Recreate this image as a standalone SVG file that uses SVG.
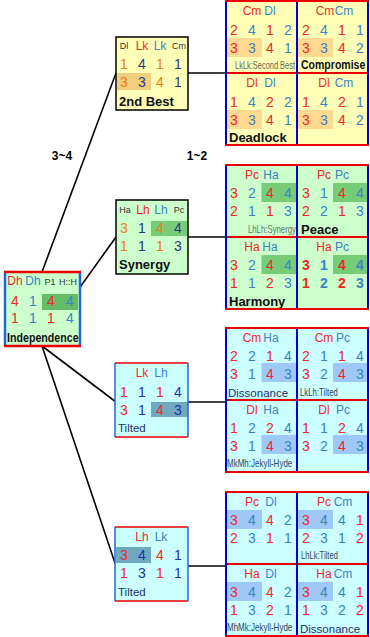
<svg xmlns="http://www.w3.org/2000/svg" width="370" height="637" viewBox="0 0 370 637">
<style>
text{font-family:"Liberation Sans",Arial,sans-serif}
.n{font-size:14px;text-anchor:middle}
.h{font-size:12px;text-anchor:middle}
.hs{font-size:9px;text-anchor:middle;fill:#333}
.r{fill:#F02828}
.b{fill:#3A84C4}
.o{fill:#EE7A22}
.v{fill:#2A3A80}
.db{fill:#2233B0}
.bd{font-weight:bold}
.lb{font-size:13px;font-weight:bold;fill:#111}
.ln{font-size:11.5px;fill:#223366}
.sm{font-size:10px}
.y{fill:#FFFFB8}
.g{fill:#CCFFCC}
.c{fill:#CCFFFF}
.hy{fill:#FFD98E}
.hg{fill:#77CC77}
.hc{fill:#9EC8F6}
.ht{fill:#6FA9BF}
.hy2{fill:#EFCF7E}
.rl{stroke:#E80000;stroke-width:2}
.bl{stroke:#0000DD;stroke-width:2}
.con{stroke:#000;stroke-width:1.6;fill:none}
</style>

<g id="connectors">
<line class="con" x1="42" y1="272" x2="116" y2="73"/>
<line class="con" x1="78" y1="290" x2="116" y2="237"/>
<line class="con" x1="42" y1="346" x2="116" y2="402"/>
<line class="con" x1="42" y1="346" x2="116" y2="566"/>
<line class="con" x1="188" y1="73" x2="226" y2="73"/>
<line class="con" x1="188" y1="237" x2="226" y2="237"/>
<line class="con" x1="188" y1="402" x2="226" y2="402"/>
<line class="con" x1="188" y1="566" x2="226" y2="566"/>
<text x="62" y="160" class="bd" font-size="12" text-anchor="middle">3~4</text>
<text x="197" y="160" class="bd" font-size="12" text-anchor="middle">1~2</text>
</g>

<!-- Block 1 -->
<g id="block1">
<rect x="226" y="1" width="142" height="144" class="y"/>
<g transform="translate(226,1)">
<rect x="1" y="37" width="35" height="19" class="hy"/>
<text class="h" y="14"><tspan x="26" class="r">Cm</tspan><tspan x="44" class="b">Dl</tspan></text>
<text class="n" y="33.5"><tspan x="8" class="r">2</tspan><tspan x="26" class="b">4</tspan><tspan x="44" class="r">1</tspan><tspan x="62" class="b">2</tspan></text>
<text class="n" y="51.5"><tspan x="8" class="r">3</tspan><tspan x="26" class="b">3</tspan><tspan x="44" class="r">4</tspan><tspan x="62" class="b">1</tspan></text>
<text class="sm" transform="translate(69,67.5) scale(0.745,1)" text-anchor="end" fill="#666650">LkLk:Second Best</text>
</g>
<g transform="translate(298,1)">
<rect x="0" y="37" width="35" height="19" class="hy"/>
<text class="h" y="14"><tspan x="27" class="r">Cm</tspan><tspan x="46" class="b">Cm</tspan></text>
<text class="n" y="33.5"><tspan x="8" class="r">2</tspan><tspan x="26" class="b">4</tspan><tspan x="44" class="r">1</tspan><tspan x="62" class="b">1</tspan></text>
<text class="n" y="51.5"><tspan x="8" class="r">3</tspan><tspan x="26" class="b">3</tspan><tspan x="44" class="r">4</tspan><tspan x="62" class="b">2</tspan></text>
<text class="lb" transform="translate(3,68) scale(0.81,1)">Compromise</text>
</g>
<g transform="translate(226,73)">
<rect x="1" y="37" width="35" height="19" class="hy"/>
<text class="h" y="14"><tspan x="26" class="r">Dl</tspan><tspan x="44" class="b">Dl</tspan></text>
<text class="n" y="33.5"><tspan x="8" class="r">1</tspan><tspan x="26" class="b">4</tspan><tspan x="44" class="r">2</tspan><tspan x="62" class="b">2</tspan></text>
<text class="n" y="51.5"><tspan x="8" class="r">3</tspan><tspan x="26" class="b">3</tspan><tspan x="44" class="r">4</tspan><tspan x="62" class="b">1</tspan></text>
<text class="lb" x="3" y="68.5">Deadlock</text>
</g>
<g transform="translate(298,73)">
<rect x="0" y="37" width="35" height="19" class="hy"/>
<text class="h" y="14"><tspan x="26" class="r">Dl</tspan><tspan x="46" class="b">Cm</tspan></text>
<text class="n" y="33.5"><tspan x="8" class="r">1</tspan><tspan x="26" class="b">4</tspan><tspan x="44" class="r">2</tspan><tspan x="62" class="b">1</tspan></text>
<text class="n" y="51.5"><tspan x="8" class="r">3</tspan><tspan x="26" class="b">3</tspan><tspan x="44" class="r">4</tspan><tspan x="62" class="b">2</tspan></text>
</g>
<line class="rl" x1="226" y1="73" x2="368" y2="73"/>
<line class="bl" x1="297" y1="1" x2="297" y2="145"/>
<line class="bl" x1="226" y1="1" x2="226" y2="145"/>
<line class="bl" x1="368" y1="1" x2="368" y2="145"/>
<line class="rl" x1="225" y1="1" x2="369" y2="1"/>
<line class="rl" x1="225" y1="145" x2="369" y2="145"/>
</g>

<!-- Block 2 -->
<g id="block2">
<rect x="226" y="165" width="142" height="144" class="g"/>
<g transform="translate(226,165)">
<rect x="35.5" y="18" width="35.5" height="19" class="hg"/>
<text class="h" y="14"><tspan x="26" class="r">Pc</tspan><tspan x="45" class="b">Ha</tspan></text>
<text class="n" y="33"><tspan x="8" class="r">3</tspan><tspan x="26" class="b">2</tspan><tspan x="44" class="r">4</tspan><tspan x="62" class="b">4</tspan></text>
<text class="n" y="51"><tspan x="8" class="r">2</tspan><tspan x="26" class="b">1</tspan><tspan x="44" class="r">1</tspan><tspan x="62" class="b">3</tspan></text>
<text class="sm" transform="translate(70,67.5) scale(0.78,1)" text-anchor="end" fill="#667766">LhLh:Synergy</text>
</g>
<g transform="translate(298,165)">
<rect x="35" y="18" width="35" height="19" class="hg"/>
<text class="h" y="14"><tspan x="26" class="r">Pc</tspan><tspan x="44" class="b">Pc</tspan></text>
<text class="n" y="33"><tspan x="8" class="r">3</tspan><tspan x="26" class="b">1</tspan><tspan x="44" class="r">4</tspan><tspan x="62" class="b">4</tspan></text>
<text class="n" y="51"><tspan x="8" class="r">2</tspan><tspan x="26" class="b">2</tspan><tspan x="44" class="r">1</tspan><tspan x="62" class="b">3</tspan></text>
<text class="lb" x="3" y="68.5">Peace</text>
</g>
<g transform="translate(226,237)">
<rect x="35.5" y="18" width="35.5" height="19" class="hg"/>
<text class="h" y="14"><tspan x="26" class="r">Ha</tspan><tspan x="44" class="b">Ha</tspan></text>
<text class="n" y="33"><tspan x="8" class="r">3</tspan><tspan x="26" class="b">2</tspan><tspan x="44" class="r">4</tspan><tspan x="62" class="b">4</tspan></text>
<text class="n" y="51"><tspan x="8" class="r">1</tspan><tspan x="26" class="b">1</tspan><tspan x="44" class="r">2</tspan><tspan x="62" class="b">3</tspan></text>
<text class="lb" x="3" y="68.5">Harmony</text>
</g>
<g transform="translate(298,237)">
<rect x="35" y="18" width="35" height="19" class="hg"/>
<text class="h" y="14"><tspan x="26" class="r">Ha</tspan><tspan x="44" class="b">Pc</tspan></text>
<text class="n bd" y="33"><tspan x="8" class="r">3</tspan><tspan x="26" class="b">1</tspan><tspan x="44" class="r">4</tspan><tspan x="62" class="b">4</tspan></text>
<text class="n bd" y="51"><tspan x="8" class="r">1</tspan><tspan x="26" class="b">2</tspan><tspan x="44" class="r">2</tspan><tspan x="62" class="b">3</tspan></text>
</g>
<line class="rl" x1="226" y1="237" x2="368" y2="237"/>
<line class="bl" x1="297" y1="165" x2="297" y2="309"/>
<line class="bl" x1="226" y1="165" x2="226" y2="309"/>
<line class="bl" x1="368" y1="165" x2="368" y2="309"/>
<line class="rl" x1="225" y1="165" x2="369" y2="165"/>
<line class="rl" x1="225" y1="309" x2="369" y2="309"/>
</g>

<!-- Block 3 -->
<g id="block3">
<rect x="226" y="328" width="142" height="144" class="c"/>
<g transform="translate(226,328)">
<rect x="35.5" y="35" width="35.5" height="19" class="hc"/>
<text class="h" y="14"><tspan x="26" class="r">Cm</tspan><tspan x="45" class="b">Ha</tspan></text>
<text class="n" y="33"><tspan x="8" class="r">2</tspan><tspan x="26" class="b">2</tspan><tspan x="44" class="r">1</tspan><tspan x="62" class="b">4</tspan></text>
<text class="n" y="51"><tspan x="8" class="r">3</tspan><tspan x="26" class="b">1</tspan><tspan x="44" class="r">4</tspan><tspan x="62" class="b">3</tspan></text>
<text class="ln" x="2" y="68.5">Dissonance</text>
</g>
<g transform="translate(298,328)">
<rect x="35" y="35" width="35" height="19" class="hc"/>
<text class="h" y="14"><tspan x="26" class="r">Cm</tspan><tspan x="45" class="b">Pc</tspan></text>
<text class="n" y="33"><tspan x="8" class="r">2</tspan><tspan x="26" class="b">1</tspan><tspan x="44" class="r">1</tspan><tspan x="62" class="b">4</tspan></text>
<text class="n" y="51"><tspan x="8" class="r">3</tspan><tspan x="26" class="b">2</tspan><tspan x="44" class="r">4</tspan><tspan x="62" class="b">3</tspan></text>
<text class="sm" transform="translate(2,67.5) scale(0.78,1)" fill="#334455">LkLh:Tilted</text>
</g>
<g transform="translate(226,400)">
<rect x="35.5" y="35" width="35.5" height="19" class="hc"/>
<text class="h" y="14"><tspan x="26" class="r">Dl</tspan><tspan x="45" class="b">Ha</tspan></text>
<text class="n" y="33"><tspan x="8" class="r">1</tspan><tspan x="26" class="b">2</tspan><tspan x="44" class="r">2</tspan><tspan x="62" class="b">4</tspan></text>
<text class="n" y="51"><tspan x="8" class="r">3</tspan><tspan x="26" class="b">1</tspan><tspan x="44" class="r">4</tspan><tspan x="62" class="b">3</tspan></text>
<text class="sm" transform="translate(1,67) scale(0.8,1)" fill="#334466">MkMh:Jekyll-Hyde</text>
</g>
<g transform="translate(298,400)">
<rect x="35" y="35" width="35" height="19" class="hc"/>
<text class="h" y="14"><tspan x="26" class="r">Dl</tspan><tspan x="45" class="b">Pc</tspan></text>
<text class="n" y="33"><tspan x="8" class="r">1</tspan><tspan x="26" class="b">1</tspan><tspan x="44" class="r">2</tspan><tspan x="62" class="b">4</tspan></text>
<text class="n" y="51"><tspan x="8" class="r">3</tspan><tspan x="26" class="b">2</tspan><tspan x="44" class="r">4</tspan><tspan x="62" class="b">3</tspan></text>
</g>
<line class="rl" x1="226" y1="400" x2="368" y2="400"/>
<line class="bl" x1="297" y1="328" x2="297" y2="472"/>
<line class="bl" x1="226" y1="328" x2="226" y2="472"/>
<line class="bl" x1="368" y1="328" x2="368" y2="472"/>
<line class="rl" x1="225" y1="328" x2="369" y2="328"/>
<line class="rl" x1="225" y1="472" x2="369" y2="472"/>
</g>

<!-- Block 4 -->
<g id="block4">
<rect x="226" y="492" width="142" height="144" class="c"/>
<g transform="translate(226,492)">
<rect x="1" y="18" width="35" height="19" class="hc"/>
<text class="h" y="14"><tspan x="26" class="r">Pc</tspan><tspan x="45" class="b">Dl</tspan></text>
<text class="n" y="33"><tspan x="8" class="r">3</tspan><tspan x="26" class="b">4</tspan><tspan x="44" class="r">4</tspan><tspan x="62" class="b">2</tspan></text>
<text class="n" y="51"><tspan x="8" class="r">2</tspan><tspan x="26" class="b">3</tspan><tspan x="44" class="r">1</tspan><tspan x="62" class="b">1</tspan></text>
</g>
<g transform="translate(298,492)">
<rect x="0" y="18" width="35" height="19" class="hc"/>
<text class="h" y="14"><tspan x="26" class="r">Pc</tspan><tspan x="45" class="b">Cm</tspan></text>
<text class="n" y="33"><tspan x="8" class="r">3</tspan><tspan x="26" class="b">4</tspan><tspan x="44" class="b">4</tspan><tspan x="62" class="r">1</tspan></text>
<text class="n" y="51"><tspan x="8" class="r">2</tspan><tspan x="26" class="b">3</tspan><tspan x="44" class="b">1</tspan><tspan x="62" class="r">2</tspan></text>
<text class="sm" transform="translate(3,66.5) scale(0.76,1)" fill="#334455">LhLk:Tilted</text>
</g>
<g transform="translate(226,564)">
<rect x="1" y="18" width="35" height="19" class="hc"/>
<text class="h" y="14"><tspan x="26" class="r">Ha</tspan><tspan x="45" class="b">Dl</tspan></text>
<text class="n" y="33"><tspan x="8" class="r">3</tspan><tspan x="26" class="b">4</tspan><tspan x="44" class="r">4</tspan><tspan x="62" class="b">2</tspan></text>
<text class="n" y="51"><tspan x="8" class="r">1</tspan><tspan x="26" class="b">3</tspan><tspan x="44" class="r">2</tspan><tspan x="62" class="b">1</tspan></text>
<text class="sm" transform="translate(1,67) scale(0.8,1)" fill="#334466">MhMk:Jekyll-Hyde</text>
</g>
<g transform="translate(298,564)">
<rect x="0" y="18" width="35" height="19" class="hc"/>
<text class="h" y="14"><tspan x="26" class="r">Ha</tspan><tspan x="45" class="b">Cm</tspan></text>
<text class="n" y="33"><tspan x="8" class="r">3</tspan><tspan x="26" class="b">4</tspan><tspan x="44" class="b">4</tspan><tspan x="62" class="r">1</tspan></text>
<text class="n" y="51"><tspan x="8" class="r">1</tspan><tspan x="26" class="b">3</tspan><tspan x="44" class="b">2</tspan><tspan x="62" class="r">2</tspan></text>
<text class="ln" x="2" y="68.5">Dissonance</text>
</g>
<line class="rl" x1="226" y1="564" x2="368" y2="564"/>
<line class="bl" x1="297" y1="492" x2="297" y2="636"/>
<line class="bl" x1="226" y1="492" x2="226" y2="636"/>
<line class="bl" x1="368" y1="492" x2="368" y2="636"/>
<line class="rl" x1="225" y1="492" x2="369" y2="492"/>
<line class="rl" x1="225" y1="636" x2="369" y2="636"/>
</g>

<!-- 2nd Best -->
<g id="node-2ndbest" transform="translate(116,37)">
<rect x="0" y="0" width="72" height="73" class="y" stroke="#000" stroke-width="1.5"/>
<rect x="1" y="36" width="34" height="17" class="hy2"/>
<text class="hs" y="12"><tspan x="8">Dl</tspan></text>
<text class="h" y="13"><tspan x="26" class="r">Lk</tspan><tspan x="44" class="b">Lk</tspan></text>
<text class="hs" y="12"><tspan x="63">Cm</tspan></text>
<text class="n" y="32"><tspan x="8" class="o">1</tspan><tspan x="26" class="v">4</tspan><tspan x="44" class="o">1</tspan><tspan x="62" class="v">1</tspan></text>
<text class="n" y="50"><tspan x="8" class="o">3</tspan><tspan x="26" class="v">3</tspan><tspan x="44" class="o">4</tspan><tspan x="62" class="v">1</tspan></text>
<text class="lb" x="3" y="68.5">2nd Best</text>
</g>

<!-- Synergy -->
<g id="node-synergy" transform="translate(116,200)">
<rect x="0" y="0" width="72" height="74" class="g" stroke="#000" stroke-width="1.5"/>
<rect x="35" y="21" width="36" height="15" class="hg"/>
<text class="hs" y="13"><tspan x="9">Ha</tspan></text>
<text class="h" y="14"><tspan x="27" class="r">Lh</tspan><tspan x="45" class="b">Lh</tspan></text>
<text class="hs" y="13"><tspan x="63">Pc</tspan></text>
<text class="n" y="33"><tspan x="8" class="o">3</tspan><tspan x="26" class="v">1</tspan><tspan x="44" class="o">4</tspan><tspan x="62" class="v">4</tspan></text>
<text class="n" y="51"><tspan x="8" class="o">1</tspan><tspan x="26" class="v">1</tspan><tspan x="44" class="o">1</tspan><tspan x="62" class="v">3</tspan></text>
<text class="lb" x="3" y="69">Synergy</text>
</g>

<!-- Independence -->
<g id="node-independence" transform="translate(5,272)">
<rect x="0" y="0" width="75" height="74" class="g"/>
<rect x="37" y="22" width="36" height="16" fill="#66BB66"/>
<text class="h" y="13"><tspan x="10" class="r">Dh</tspan><tspan x="28" class="b">Dh</tspan></text>
<text class="hs" y="12.5"><tspan x="45">P1</tspan><tspan x="63">H::H</tspan></text>
<text class="n" y="34"><tspan x="10" class="r">4</tspan><tspan x="28" class="b">1</tspan><tspan x="46" class="r">4</tspan><tspan x="65" class="b">4</tspan></text>
<text class="n" y="51"><tspan x="10" class="r">1</tspan><tspan x="28" class="b">1</tspan><tspan x="46" class="r">1</tspan><tspan x="65" class="b">4</tspan></text>
<text class="lb" transform="translate(2,69.5) scale(0.82,1)">Independence</text>
<line x1="0" y1="0" x2="0" y2="74" stroke="#2266DD" stroke-width="2.5"/>
<line x1="75" y1="0" x2="75" y2="74" stroke="#2266DD" stroke-width="2.5"/>
<line x1="-1" y1="0" x2="76" y2="0" stroke="#E80000" stroke-width="2.5"/>
<line x1="-1" y1="74" x2="76" y2="74" stroke="#E80000" stroke-width="2.5"/>
</g>

<!-- Tilted 1 -->
<g id="node-tilted1" transform="translate(115,363)">
<rect x="0" y="0" width="73" height="74" class="c"/>
<rect x="36" y="39" width="37" height="15" class="ht"/>
<text class="h" y="14"><tspan x="27" class="r">Lk</tspan><tspan x="46" class="b">Lh</tspan></text>
<text class="n" y="34"><tspan x="9" class="r">1</tspan><tspan x="27" class="db">1</tspan><tspan x="45" class="r">1</tspan><tspan x="63" class="db">4</tspan></text>
<text class="n" y="52"><tspan x="9" class="r">3</tspan><tspan x="27" class="db">1</tspan><tspan x="45" class="r">4</tspan><tspan x="63" class="db">3</tspan></text>
<text class="ln" x="3" y="69">Tilted</text>
<line x1="0" y1="0" x2="0" y2="74" stroke="#2266DD" stroke-width="1.5"/>
<line x1="73" y1="0" x2="73" y2="74" stroke="#2266DD" stroke-width="1.5"/>
<line x1="0" y1="0" x2="73" y2="0" stroke="#E80000" stroke-width="1.5"/>
<line x1="0" y1="74" x2="73" y2="74" stroke="#E80000" stroke-width="1.5"/>
</g>

<!-- Tilted 2 -->
<g id="node-tilted2" transform="translate(115,527)">
<rect x="0" y="0" width="73" height="74" class="c"/>
<rect x="1" y="20" width="35" height="16" class="ht"/>
<text class="h" y="14"><tspan x="27" class="r">Lh</tspan><tspan x="46" class="b">Lk</tspan></text>
<text class="n" y="33"><tspan x="9" class="r">3</tspan><tspan x="27" class="db">4</tspan><tspan x="45" class="r">4</tspan><tspan x="63" class="db">1</tspan></text>
<text class="n" y="51"><tspan x="9" class="r">1</tspan><tspan x="27" class="db">3</tspan><tspan x="45" class="r">1</tspan><tspan x="63" class="db">1</tspan></text>
<text class="ln" x="3" y="69">Tilted</text>
<line x1="0" y1="0" x2="0" y2="74" stroke="#2266DD" stroke-width="1.5"/>
<line x1="73" y1="0" x2="73" y2="74" stroke="#2266DD" stroke-width="1.5"/>
<line x1="0" y1="0" x2="73" y2="0" stroke="#E80000" stroke-width="1.5"/>
<line x1="0" y1="74" x2="73" y2="74" stroke="#E80000" stroke-width="1.5"/>
</g>
</svg>
